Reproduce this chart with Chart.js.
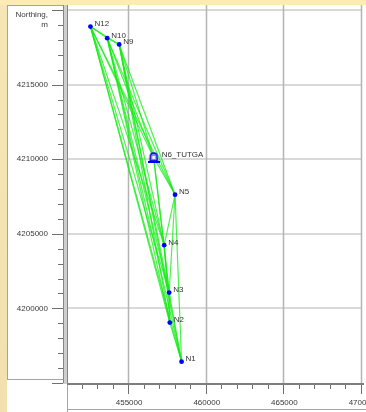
<!DOCTYPE html>
<html>
<head>
<meta charset="utf-8">
<script src="https://cdn.jsdelivr.net/npm/chart.js@4.4.1/dist/chart.umd.min.js"></script>
<style>
  html, body { margin: 0; padding: 0; background: #f3e3b3; }
  #wrap { width: 366px; height: 412px; position: relative; }
</style>
</head>
<body>
<div id="wrap"><canvas id="net"></canvas></div>
<script>
// survey stations (easting / northing, metres)
const stations = ['N1', 'N2', 'N3', 'N4', 'N5', 'N6_TUTGA', 'N9', 'N10', 'N12'];
const eastings = [458380, 457620, 457580, 457260, 457960, 456580, 454360, 453590, 452510];
const northings = [4196430, 4199050, 4201060, 4204240, 4207620, 4210120, 4217690, 4218110, 4218890];

// observed baselines (from -> to)
const lineFrom = ['N12', 'N10', 'N12',
  'N12', 'N12', 'N12', 'N12', 'N12', 'N12',
  'N10', 'N10', 'N10', 'N10', 'N10', 'N10',
  'N9', 'N9', 'N9', 'N9', 'N9', 'N9',
  'N6_TUTGA', 'N6_TUTGA', 'N6_TUTGA', 'N5', 'N5', 'N5', 'N4', 'N4', 'N3', 'N3', 'N2'];
const lineTo = ['N10', 'N9', 'N9',
  'N6_TUTGA', 'N5', 'N4', 'N3', 'N2', 'N1',
  'N6_TUTGA', 'N5', 'N4', 'N3', 'N2', 'N1',
  'N6_TUTGA', 'N5', 'N4', 'N3', 'N2', 'N1',
  'N5', 'N4', 'N3', 'N4', 'N3', 'N1', 'N3', 'N2', 'N2', 'N1', 'N1'];

// axis ranges and labelled ticks
const eastMin = 451000, eastMax = 470000;
const northMin = 4195000, northMax = 4220000;
const eastLabels = [455000, 460000, 465000, 470000];
const northLabels = [4200000, 4205000, 4210000, 4215000];
const minorStep = 1000;

const FONT = '8px "Liberation Sans", Arial, sans-serif';

// station marker for the reference point
const icon = document.createElement('canvas');
icon.width = 12; icon.height = 11;
(function () {
  const c = icon.getContext('2d');
  c.fillStyle = '#7f86ff';
  c.strokeStyle = '#0000ee';
  c.lineWidth = 1.4;
  c.beginPath();
  c.moveTo(2.5, 9); c.lineTo(2.5, 5);
  c.quadraticCurveTo(2.5, 1, 6, 1);
  c.quadraticCurveTo(9.5, 1, 9.5, 5);
  c.lineTo(9.5, 9);
  c.closePath();
  c.fill(); c.stroke();
  c.fillStyle = '#0000ee';
  c.fillRect(0, 9, 12, 2);
  c.fillStyle = '#ffffff';
  c.fillRect(4.5, 4, 3, 3);
})();

const idx = name => stations.indexOf(name);

const lineSets = lineFrom.map((a, i) => {
  const b = lineTo[i];
  return {
    type: 'scatter',
    showLine: true,
    data: [
      { x: eastings[idx(a)], y: northings[idx(a)] },
      { x: eastings[idx(b)], y: northings[idx(b)] }
    ],
    borderColor: 'rgba(20, 235, 20, 0.75)',
    borderWidth: 1.2,
    pointRadius: 0,
    order: 2
  };
});

const pointSet = {
  type: 'scatter',
  data: stations.map((s, i) => ({ x: eastings[i], y: northings[i] })),
  backgroundColor: '#0000ff',
  borderColor: '#0000ff',
  borderWidth: 0,
  pointStyle: ctx => stations[ctx.dataIndex] === 'N6_TUTGA' ? icon : 'circle',
  pointRadius: 2.4,
  order: 0
};

const frame = {
  id: 'frame',
  beforeDraw(chart) {
    const ctx = chart.ctx;
    const { left, right, top, bottom } = chart.chartArea;
    const W = chart.width, H = chart.height;
    const xs = chart.scales.x, ys = chart.scales.y;
    ctx.save();
    // parchment
    const g = ctx.createLinearGradient(0, 0, W, H);
    g.addColorStop(0, '#f6e6b6');
    g.addColorStop(1, '#efdcaa');
    ctx.fillStyle = g;
    ctx.fillRect(0, 0, W, H);
    ctx.fillStyle = '#fcebb4';
    ctx.fillRect(0, 0, W, 5);
    // panels
    ctx.fillStyle = '#ffffff';
    ctx.fillRect(7, 5, W - 7, H - 5);
    ctx.strokeStyle = '#a4a4a4';
    ctx.lineWidth = 1;
    ctx.strokeRect(7.5, 5.5, 58, 374);
    ctx.beginPath();
    ctx.moveTo(left, 409.5); ctx.lineTo(W, 409.5);
    ctx.moveTo(left + 0.5, bottom); ctx.lineTo(left + 0.5, H);
    ctx.stroke();

    // grid
    ctx.strokeStyle = '#d9d9d9';
    ctx.lineWidth = 2;
    ctx.beginPath();
    northLabels.concat([northMax]).forEach(v => {
      const py = Math.round(ys.getPixelForValue(v));
      ctx.moveTo(left, py); ctx.lineTo(right, py);
    });
    ctx.stroke();
    ctx.strokeStyle = '#b4b4b4';
    ctx.lineWidth = 1.5;
    ctx.beginPath();
    eastLabels.forEach(v => {
      const px = Math.round(xs.getPixelForValue(v)) - 0.5;
      ctx.moveTo(px, 5); ctx.lineTo(px, bottom);
    });
    ctx.stroke();
    ctx.restore();
  },
  afterDraw(chart) {
    const ctx = chart.ctx;
    const { left, right, bottom } = chart.chartArea;
    const xs = chart.scales.x, ys = chart.scales.y;
    ctx.save();
    // y axis bar
    ctx.fillStyle = '#cfcfcf';
    ctx.fillRect(63, 5, 5, bottom - 4);
    ctx.strokeStyle = '#858585';
    ctx.lineWidth = 1;
    ctx.beginPath();
    ctx.moveTo(63.5, 5); ctx.lineTo(63.5, bottom);
    ctx.moveTo(67.5, 5); ctx.lineTo(67.5, bottom);
    ctx.stroke();
    // x axis bar
    ctx.fillStyle = '#7e7e7e';
    ctx.fillRect(left, bottom, right - left + 2, 2);

    ctx.strokeStyle = '#6f6f6f';
    ctx.lineWidth = 1;
    ctx.beginPath();
    for (let v = northMin; v <= northMax; v += minorStep) {
      const py = Math.round(ys.getPixelForValue(v)) + 0.5;
      const major = v % 5000 === 0;
      ctx.moveTo(major ? 52 : 58, py); ctx.lineTo(63, py);
    }
    for (let v = eastMin + minorStep; v <= eastMax; v += minorStep) {
      const px = Math.round(xs.getPixelForValue(v)) - 0.5;
      const major = v % 5000 === 0;
      ctx.moveTo(px, bottom + 2); ctx.lineTo(px, bottom + (major ? 11 : 6));
    }
    ctx.stroke();

    ctx.fillStyle = '#3a3a3a';
    ctx.font = FONT;
    ctx.textAlign = 'right';
    ctx.textBaseline = 'middle';
    northLabels.forEach(v => ctx.fillText(String(v), 48, ys.getPixelForValue(v)));
    ctx.fillText('Northing,', 48, 15);
    ctx.fillText('m', 48, 25);
    ctx.textAlign = 'center';
    eastLabels.forEach(v => ctx.fillText(String(v), xs.getPixelForValue(v), 403));
    ctx.restore();
  },
  afterDatasetsDraw(chart) {
    const ctx = chart.ctx;
    const meta = chart.getDatasetMeta(chart.data.datasets.length - 1);
    ctx.save();
    ctx.fillStyle = '#333333';
    ctx.font = FONT;
    ctx.textAlign = 'left';
    ctx.textBaseline = 'middle';
    meta.data.forEach((pt, i) => {
      const dx = stations[i] === 'N6_TUTGA' ? 8 : 4;
      ctx.fillText(stations[i], pt.x + dx, pt.y - 2.5);
    });
    ctx.restore();
  }
};

new Chart(document.getElementById('net'), {
  type: 'scatter',
  data: { datasets: [...lineSets, pointSet] },
  options: {
    responsive: true,
    maintainAspectRatio: false,
    animation: false,
    layout: { padding: { left: 67, right: 1, top: 10, bottom: 29 } },
    plugins: { legend: { display: false }, tooltip: { enabled: false } },
    scales: {
      x: { type: 'linear', min: eastMin, max: eastMax, display: false },
      y: { type: 'linear', min: northMin, max: northMax, display: false }
    }
  },
  plugins: [frame]
});
</script>
</body>
</html>
